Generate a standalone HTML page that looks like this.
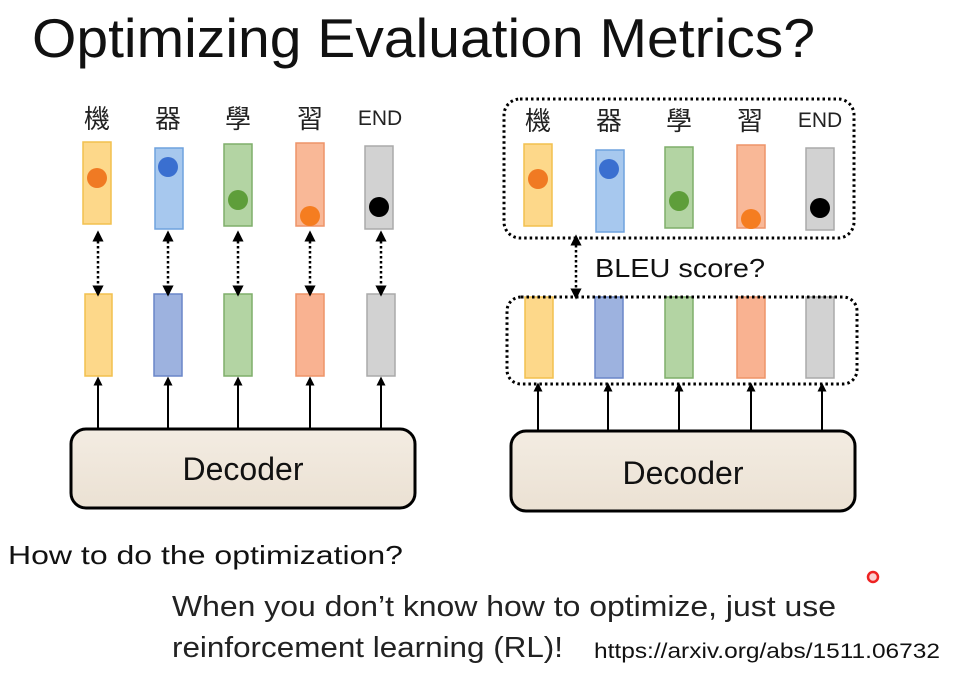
<!DOCTYPE html>
<html><head><meta charset="utf-8"><style>html,body{margin:0;padding:0;background:#fff}svg{display:block}</style></head>
<body>
<svg width="957" height="679" viewBox="0 0 957 679" xmlns="http://www.w3.org/2000/svg" font-family="'Liberation Sans','Noto Sans CJK TC',sans-serif">
<defs>
<marker id="ah" viewBox="0 0 10 10" refX="5" refY="5" markerWidth="4.5" markerHeight="4.5" orient="auto-start-reverse"><path d="M0,0L10,5L0,10z" fill="#000"/></marker>
<linearGradient id="dec" x1="0" y1="0" x2="0" y2="1"><stop offset="0" stop-color="#f3ece2"/><stop offset="1" stop-color="#ebe1d3"/></linearGradient>
</defs>
<rect width="957" height="679" fill="#fff"/>
<text x="32" y="57" font-size="55" textLength="783" lengthAdjust="spacingAndGlyphs" fill="#111">Optimizing Evaluation Metrics?</text>

<!-- Left -->
<g font-size="26" fill="#222" text-anchor="middle">
<text x="97" y="128">機</text><text x="168" y="128">器</text><text x="238" y="128">學</text><text x="310" y="128">習</text><text x="380" y="125" font-size="21">END</text>
</g>
<g stroke-width="1.5">
<rect x="83" y="142" width="28" height="82" fill="#fdd88a" stroke="#f2c04e"/>
<rect x="155" y="148" width="28" height="81" fill="#a7c8ee" stroke="#6fa2de"/>
<rect x="224" y="144" width="28" height="82" fill="#b3d4a3" stroke="#7fae6a"/>
<rect x="296" y="143" width="28" height="83" fill="#f9b897" stroke="#ee9468"/>
<rect x="365" y="146" width="28" height="83" fill="#d2d2d2" stroke="#aaa"/>
<rect x="85" y="294" width="27" height="82" fill="#fdd88a" stroke="#f2c04e"/>
<rect x="154" y="294" width="28" height="82" fill="#9db2df" stroke="#6a86c8"/>
<rect x="224" y="294" width="28" height="82" fill="#b3d4a3" stroke="#7fae6a"/>
<rect x="296" y="294" width="28" height="82" fill="#f9b291" stroke="#ee9468"/>
<rect x="367" y="294" width="28" height="82" fill="#d2d2d2" stroke="#aaa"/>
</g>
<circle cx="97" cy="178" r="10" fill="#f07a23"/>
<circle cx="168" cy="167" r="10" fill="#3a6fd0"/>
<circle cx="238" cy="200" r="10" fill="#5e9e3a"/>
<circle cx="310" cy="216" r="10" fill="#f57d20"/>
<circle cx="379" cy="207" r="10" fill="#000"/>
<g stroke="#000" stroke-width="2.5" stroke-dasharray="2.5,2.5" marker-start="url(#ah)" marker-end="url(#ah)">
<line x1="98" y1="236" x2="98" y2="291"/><line x1="168" y1="236" x2="168" y2="291"/><line x1="238" y1="236" x2="238" y2="291"/><line x1="310" y1="236" x2="310" y2="291"/><line x1="381" y1="236" x2="381" y2="291"/>
</g>
<g stroke="#000" stroke-width="2" marker-end="url(#ah)">
<line x1="98" y1="428" x2="98" y2="381"/><line x1="168" y1="428" x2="168" y2="381"/><line x1="238" y1="428" x2="238" y2="381"/><line x1="310" y1="428" x2="310" y2="381"/><line x1="381" y1="428" x2="381" y2="381"/>
</g>
<rect x="71" y="429" width="344" height="79" rx="15" fill="url(#dec)" stroke="#000" stroke-width="3"/>
<text x="243" y="480" font-size="32" text-anchor="middle" fill="#111">Decoder</text>

<!-- Right -->
<rect x="504" y="99" width="350" height="139" rx="16" fill="none" stroke="#000" stroke-width="3" stroke-dasharray="2.5,3"/>
<g font-size="26" fill="#222" text-anchor="middle">
<text x="538" y="130">機</text><text x="609" y="130">器</text><text x="679" y="130">學</text><text x="750" y="130">習</text><text x="820" y="127" font-size="21">END</text>
</g>
<g stroke-width="1.5">
<rect x="524" y="144" width="28" height="82" fill="#fdd88a" stroke="#f2c04e"/>
<rect x="596" y="150" width="28" height="82" fill="#a7c8ee" stroke="#6fa2de"/>
<rect x="665" y="147" width="28" height="81" fill="#b3d4a3" stroke="#7fae6a"/>
<rect x="737" y="145" width="28" height="83" fill="#f9b897" stroke="#ee9468"/>
<rect x="806" y="148" width="28" height="82" fill="#d2d2d2" stroke="#aaa"/>
<rect x="525" y="297" width="28" height="81" fill="#fdd88a" stroke="#f2c04e"/>
<rect x="595" y="297" width="28" height="81" fill="#9db2df" stroke="#6a86c8"/>
<rect x="665" y="297" width="28" height="81" fill="#b3d4a3" stroke="#7fae6a"/>
<rect x="737" y="297" width="28" height="81" fill="#f9b291" stroke="#ee9468"/>
<rect x="806" y="297" width="28" height="81" fill="#d2d2d2" stroke="#aaa"/>
</g>
<circle cx="538" cy="179" r="10" fill="#f07a23"/>
<circle cx="609" cy="169" r="10" fill="#3a6fd0"/>
<circle cx="679" cy="201" r="10" fill="#5e9e3a"/>
<circle cx="751" cy="219" r="10" fill="#f57d20"/>
<circle cx="820" cy="208" r="10" fill="#000"/>
<line x1="576" y1="240" x2="576" y2="294" stroke="#000" stroke-width="2.5" stroke-dasharray="2.5,2.5" marker-start="url(#ah)" marker-end="url(#ah)"/>
<text x="595" y="277" font-size="26" textLength="170" lengthAdjust="spacingAndGlyphs" fill="#111">BLEU score?</text>
<rect x="507" y="297" width="350" height="87" rx="14" fill="none" stroke="#000" stroke-width="3" stroke-dasharray="2.5,3"/>
<g stroke="#000" stroke-width="2" marker-end="url(#ah)">
<line x1="538" y1="430" x2="538" y2="387"/><line x1="608" y1="430" x2="608" y2="387"/><line x1="679" y1="430" x2="679" y2="387"/><line x1="751" y1="430" x2="751" y2="387"/><line x1="822" y1="430" x2="822" y2="387"/>
</g>
<rect x="511" y="431" width="344" height="80" rx="15" fill="url(#dec)" stroke="#000" stroke-width="3"/>
<text x="683" y="484" font-size="32" text-anchor="middle" fill="#111">Decoder</text>

<!-- Bottom text -->
<text x="8" y="564" font-size="26" textLength="395" lengthAdjust="spacingAndGlyphs" fill="#111">How to do the optimization?</text>
<text x="172" y="616" font-size="29" textLength="664" lengthAdjust="spacingAndGlyphs" fill="#222">When you don’t know how to optimize, just use</text>
<text x="172" y="657" font-size="29" textLength="391" lengthAdjust="spacingAndGlyphs" fill="#222">reinforcement learning (RL)!</text>
<text x="594" y="658" font-size="21" textLength="346" lengthAdjust="spacingAndGlyphs" fill="#111">https://arxiv.org/abs/1511.06732</text>
<circle cx="873" cy="577" r="5" fill="#fbd0d0" stroke="#e22" stroke-width="2.5"/>
</svg>
</body></html>
